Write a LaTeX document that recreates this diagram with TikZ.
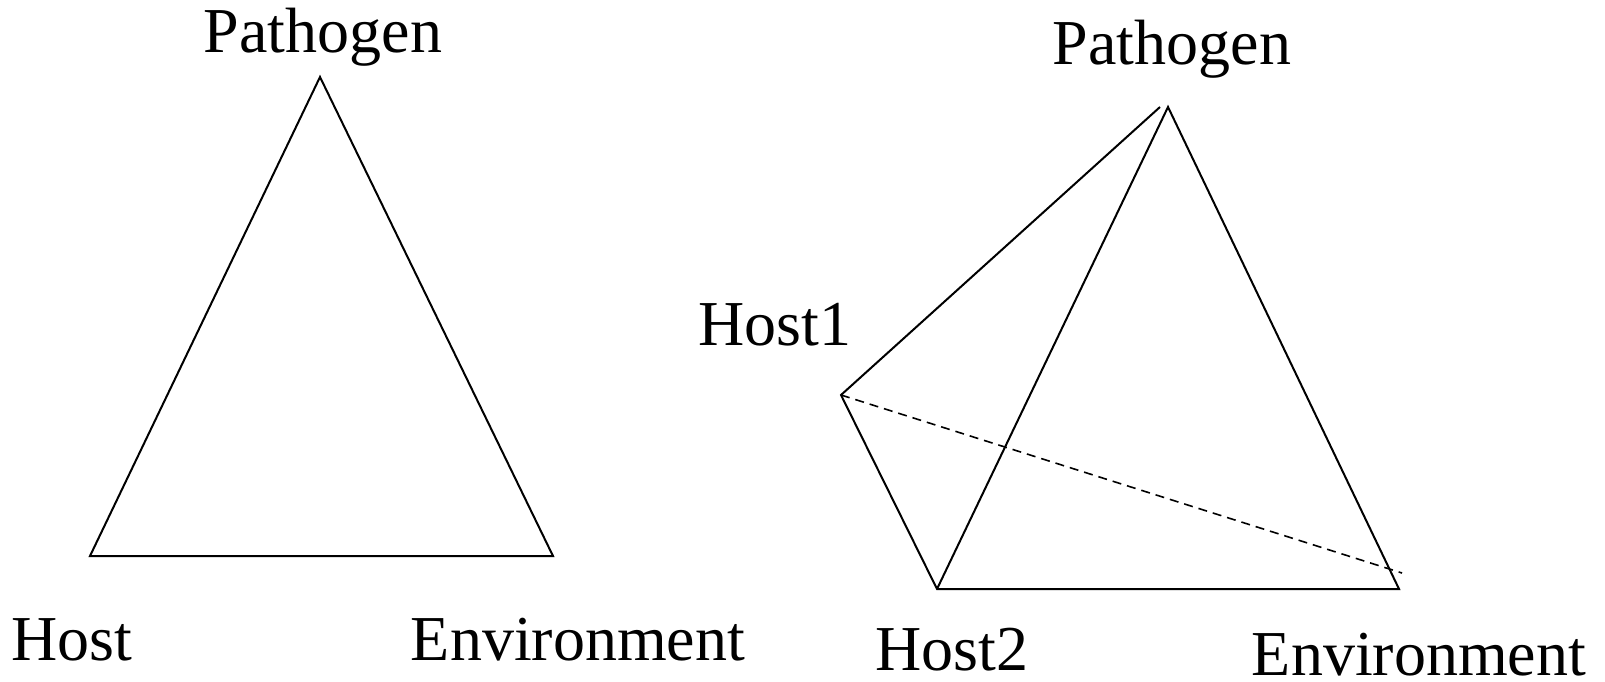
\documentclass[tikz,border=0pt]{standalone}
\usepackage{fontspec}
\setmainfont{Liberation Serif}
\usetikzlibrary{positioning}

\begin{document}
\begin{tikzpicture}[x=1pt,y=1pt,line width=2pt,
	lbl/.style={anchor=base,inner sep=0pt,font=\fontsize{64}{72}\selectfont},
	hidden/.style={dash pattern=on 9pt off 6pt,line width=1.6pt}]
	\useasboundingbox (0,0) rectangle (1605,681);
	% one host
	\coordinate (P) at (320,604);
	\coordinate (H) at (90,125);
	\coordinate (E) at (553,125);
	\draw (P) -- (H) -- (E) -- cycle;
	\node[lbl] (LP) at (323,628) {Pathogen};
	\node[lbl] (LH) at (72,21) {Host};
	\node[lbl] (LE) at (578,21) {Environment};
	% two hosts
	\coordinate (P2) at (1168,574);
	\coordinate (P1) at (1160,574);
	\coordinate (H1) at (841,286);
	\coordinate (H2) at (937,92);
	\coordinate (E2) at (1399,92);
	\coordinate (D) at (1402,108);
	\draw (P1) -- (H1) -- (H2) -- (E2) -- (P2) -- (H2);
	\draw[hidden] (H1) -- (D);
	\node[lbl] (LP2) at (1172,616) {Pathogen};
	\node[lbl] (LH1) at (775,336) {Host1};
	\node[lbl] (LH2) at (952,11) {Host2};
	\node[lbl] (LE2) at (1419,6) {Environment};
\end{tikzpicture}
\end{document}
